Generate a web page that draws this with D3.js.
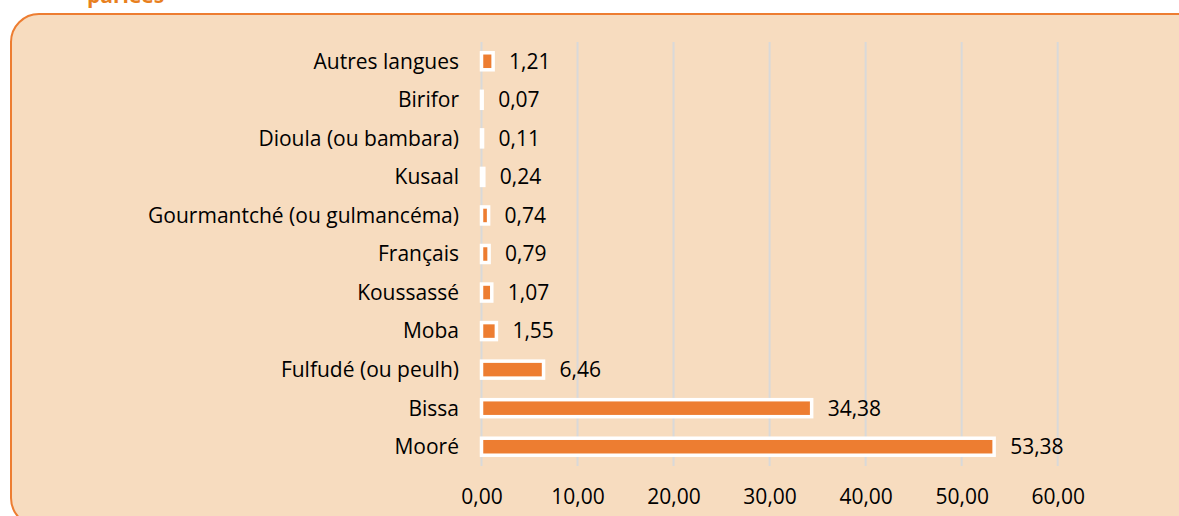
<!DOCTYPE html>
<html>
<head>
<meta charset="utf-8">
<script src="https://cdn.jsdelivr.net/npm/d3@7"></script>
<style>
  body { margin: 0; background: #fff; }
  svg text { font-family: "Open Sans", sans-serif; }
</style>
</head>
<body>
<div id="chart"></div>
<script>
// langues parlées, en %
var langues = ["Autres langues", "Birifor", "Dioula (ou bambara)", "Kusaal",
  "Gourmantché (ou gulmancéma)", "Français", "Koussassé", "Moba",
  "Fulfudé (ou peulh)", "Bissa", "Mooré"];
var valeurs = [1.21, 0.07, 0.11, 0.24, 0.74, 0.79, 1.07, 1.55, 6.46, 34.38, 53.38];
var ticks = [0, 10, 20, 30, 40, 50, 60];

var W = 1179, H = 516;
var orange = "#ED7D31";
var fs = 21;

var svg = d3.select('#chart').append('svg')
  .attr('width', W)
  .attr('height', H);

// cadre arrondi
svg.append('rect')
  .attr('x', 11).attr('y', 14)
  .attr('width', W + 20).attr('height', 512)
  .attr('rx', 28).attr('ry', 28)
  .attr('fill', '#F7DCBF')
  .attr('stroke', orange)
  .attr('stroke-width', 2);

// bout du titre coupé
svg.append('text')
  .attr('x', 87).attr('y', 3)
  .attr('fill', '#E8801E')
  .attr('font-weight', 'bold')
  .attr('font-size', 21)
  .text('parlées');

var x = d3.scaleLinear().domain([0, 60]).range([481.5, 1057.7]);
var y = d3.scaleBand().domain(langues).range([42, 466]);

var grid = svg.append('g');
grid.selectAll('line').data(ticks).enter().append('line')
  .attr('x1', function(d){ return x(d) })
  .attr('x2', function(d){ return x(d) })
  .attr('y1', 42).attr('y2', 466)
  .attr('stroke', '#D9D9D9')
  .attr('stroke-width', 2);

var xAxis = d3.axisBottom(x).tickValues(ticks)
  .tickSize(0).tickPadding(0)
  .tickFormat(function(d){ return d3.format('.2f')(d).replace('.', ',') });

svg.append('g')
  .attr('transform', 'translate(0,489)')
  .call(xAxis)
  .call(function(g){ g.select('.domain').remove() })
  .selectAll('text')
  .attr('font-family', '"Open Sans", sans-serif')
  .attr('font-size', fs)
  .attr('fill', '#000');

var barH = 17;
var bars = svg.append('g');
bars.selectAll('rect').data(valeurs).enter().append('rect')
  .attr('x', x(0))
  .attr('y', function(d, i){ return y(langues[i]) + y.bandwidth()/2 - barH/2 })
  .attr('width', function(d){ return x(d) - x(0) })
  .attr('height', barH)
  .attr('fill', orange)
  .attr('stroke', '#fff')
  .attr('stroke-width', 3.5);

bars.selectAll('text.val').data(valeurs).enter().append('text')
  .attr('class', 'val')
  .attr('x', function(d){ return x(d) + 16 })
  .attr('y', function(d, i){ return y(langues[i]) + y.bandwidth()/2 })
  .attr('dy', '0.35em')
  .attr('font-size', fs)
  .attr('fill', '#000')
  .text(function(d){ return d3.format('.2f')(d).replace('.', ',') });

svg.append('g').selectAll('text').data(langues).enter().append('text')
  .attr('x', 459)
  .attr('y', function(d){ return y(d) + y.bandwidth()/2 })
  .attr('dy', '0.35em')
  .attr('text-anchor', 'end')
  .attr('font-size', fs)
  .attr('fill', '#000')
  .text(function(d){ return d });
</script>
</body>
</html>
